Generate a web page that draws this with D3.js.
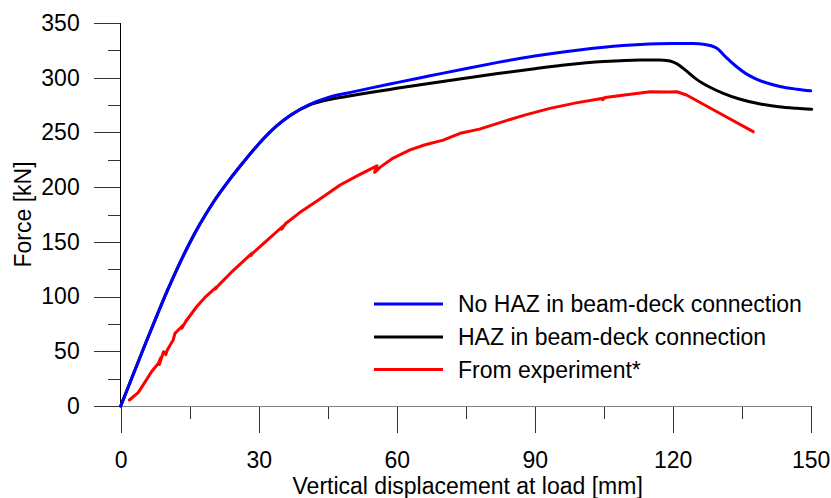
<!DOCTYPE html>
<html>
<head>
<meta charset="utf-8">
<script src="https://cdn.jsdelivr.net/npm/d3@7"></script>
<style>
  html, body { margin: 0; padding: 0; background: #fff; }
  svg { display: block; font-family: "Liberation Sans", Arial, Helvetica, sans-serif; }
</style>
</head>
<body>
<svg id="chart" width="831" height="498"></svg>
<script>
// ---- Data ----
const xMajorTicks = [0, 30, 60, 90, 120, 150];
const xMinorTicks = [15, 45, 75, 105, 135];
const yMajorTicks = [0, 50, 100, 150, 200, 250, 300, 350];
const yMinorTicks = [25, 75, 125, 175, 225, 275, 325];

const seriesNames = ["No HAZ in beam-deck connection", "HAZ in beam-deck connection", "From experiment*"];
const seriesColors = ["#0000ff", "#000000", "#ff0000"];

const noHazX = [0, 5, 8, 10, 12.9, 15, 17.2, 20.1, 23.5, 26.7, 30, 33.9, 37, 41, 45, 50, 53.5, 60, 67, 75.2, 82, 90, 97, 105, 113, 120, 124.5, 126.7, 129.6, 131.5, 133.9, 136, 138.3, 143.3, 147, 150];
const noHazY = [0, 53, 84, 104, 131, 149, 166, 186, 206, 223, 239.5, 256, 266, 275.5, 281.8, 286.6, 289.8, 295.5, 301.5, 308.5, 314, 319.8, 324, 327.9, 330.4, 331.2, 331.2, 330.6, 327, 319, 310, 303.5, 298.5, 292, 289.5, 288];

const hazX = [0, 5, 8, 10, 12.9, 15, 17.2, 20.1, 23.5, 26.7, 30, 33.9, 37, 41, 45, 50, 53.5, 60, 67, 75.2, 82, 90, 97, 105, 113, 117, 119.4, 121, 122.3, 125.2, 128, 131, 134.5, 138.3, 143, 147, 150.2];
const hazY = [0, 53, 84, 104, 131, 149, 166, 186, 206, 223, 239.5, 256, 266, 275, 279.8, 283.5, 286, 290.3, 294.8, 299.8, 303.8, 308.2, 311.8, 314.8, 316.3, 316.3, 315.3, 312.5, 308.5, 298.5, 291.5, 285.7, 280.5, 276.6, 273.5, 272, 271.1];

const expX = [1.9, 3.8, 5, 6.7, 8.2, 8.7, 8.4, 9.3, 9.8, 10.1, 11.4, 11.8, 13.6, 13.3, 14.1, 16.5, 18.5, 20.9, 20.6, 21.2, 24.5, 28.5, 28.3, 28.9, 32, 35.3, 35.0, 35.8, 39, 43, 47.7, 51.5, 55.7, 55.2, 56.5, 59, 62.9, 66, 70.1, 73.8, 78, 84, 88, 93.3, 99, 104.9, 104.8, 105.3, 110, 115.1, 119, 120.9, 123, 130, 137.5];
const expY = [5.5, 12.2, 20, 31.3, 39, 44, 38, 49.6, 47, 51, 60.3, 66.4, 74, 71, 77, 90.7, 100, 109, 107, 110, 124, 139.5, 137.5, 140.5, 152, 164.5, 161.5, 166.5, 177, 188.2, 202, 210.5, 219.5, 213.5, 218.5, 226, 234, 238.5, 243, 249.2, 253, 261, 266, 272, 277, 281.2, 279.8, 282, 284.5, 287.2, 287, 287.2, 284.2, 268, 250.7];

const xTitle = "Vertical displacement at load [mm]";
const yTitle = "Force [kN]";

// ---- Layout ----
const svg = d3.select("#chart");
const x = d3.scaleLinear().domain([0, 150]).range([120.7, 810.7]);
const y = d3.scaleLinear().domain([0, 350]).range([406, 23]);
const fontSize = 23;
const ff = "'Liberation Sans', Arial, sans-serif";

function styleTicks(g) {
  g.select(".domain").remove();
  g.selectAll("line").attr("stroke", "#333").attr("shape-rendering", "crispEdges");
  g.selectAll("text").attr("font-size", fontSize).attr("fill", "#000").attr("font-family", ff);
}

// Y axis minor / major ticks
svg.append("g")
  .attr("transform", `translate(${x(0)},0)`)
  .call(d3.axisLeft(y).tickValues(yMinorTicks).tickSize(13).tickFormat(""))
  .call(styleTicks);
svg.append("g")
  .attr("transform", `translate(${x(0)},0)`)
  .call(d3.axisLeft(y).tickValues(yMajorTicks).tickSize(27).tickPadding(14))
  .call(styleTicks);

// X axis minor / major ticks
svg.append("g")
  .attr("transform", `translate(0,${y(0)})`)
  .call(d3.axisBottom(x).tickValues(xMinorTicks).tickSize(13).tickFormat(""))
  .call(styleTicks);
svg.append("g")
  .attr("transform", `translate(0,${y(0)})`)
  .call(d3.axisBottom(x).tickValues(xMajorTicks).tickSize(27).tickPadding(19))
  .call(styleTicks);

// Axis lines
svg.append("line")
  .attr("x1", x(0)).attr("x2", x(150)).attr("y1", y(0)).attr("y2", y(0))
  .attr("stroke", "#808080").attr("stroke-width", 1).attr("shape-rendering", "crispEdges");
svg.append("line")
  .attr("x1", x(0)).attr("x2", x(0)).attr("y1", y(350)).attr("y2", y(0))
  .attr("stroke", "#000").attr("stroke-width", 1).attr("shape-rendering", "crispEdges");

// Titles
svg.append("text")
  .attr("x", (x(0) + x(150)) / 2 + 2).attr("y", 494)
  .attr("text-anchor", "middle").attr("font-size", fontSize).attr("fill", "#000")
  .text(xTitle);
svg.append("text")
  .attr("transform", `translate(31,${(y(0) + y(350)) / 2}) rotate(-90)`)
  .attr("text-anchor", "middle").attr("font-size", fontSize).attr("fill", "#000")
  .text(yTitle);

// Lines
const seriesData = [
  noHazX.map((d, i) => [d, noHazY[i]]),
  hazX.map((d, i) => [d, hazY[i]]),
  expX.map((d, i) => [d, expY[i]])
];
const smooth = d3.line().x(d => x(d[0])).y(d => y(d[1])).curve(d3.curveMonotoneX);
const straight = d3.line().x(d => x(d[0])).y(d => y(d[1]));

[1, 0, 2].forEach(i => {
  svg.append("path")
    .attr("d", i === 2 ? straight(seriesData[i]) : smooth(seriesData[i]))
    .attr("fill", "none")
    .attr("stroke", seriesColors[i])
    .attr("stroke-width", 3)
    .attr("stroke-linejoin", "round")
    .attr("stroke-linecap", "round");
});

// Legend
const legendY = [304, 337, 369.5];
const legend = svg.append("g");
seriesNames.forEach((name, i) => {
  legend.append("line")
    .attr("x1", 374).attr("x2", 443).attr("y1", legendY[i]).attr("y2", legendY[i])
    .attr("stroke", seriesColors[i]).attr("stroke-width", 3);
  legend.append("text")
    .attr("x", 458).attr("y", legendY[i]).attr("dy", "0.35em")
    .attr("font-size", fontSize).attr("fill", "#000")
    .text(name);
});
</script>
</body>
</html>
